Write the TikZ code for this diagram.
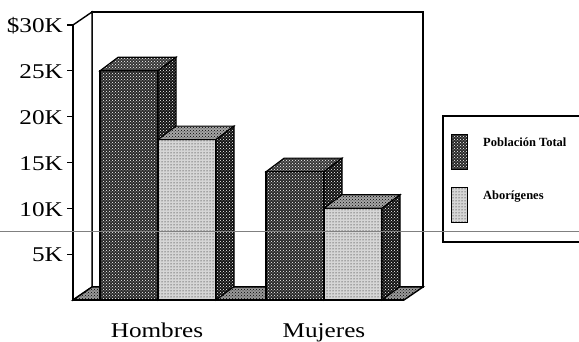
\documentclass[tikz,border=0pt]{standalone}
\usepackage{fontspec}
\setmainfont{Liberation Serif}[FakeStretch=1.2]
\newfontfamily\legfont{Liberation Serif}
\usetikzlibrary{patterns}
\newcommand\barbox[6]{%
  \path[#4, edge] (#1,300) rectangle (#2,#3);
  \path[#5, edge] (#1,#3) -- (#2,#3) -- (#2+18,#3-13.5) -- (#1+18,#3-13.5) -- cycle;
  \path[#6, edge] (#2,300) -- (#2,#3) -- (#2+18,#3-13.5) -- (#2+18,286.5) -- cycle;
}
\begin{document}
\begin{tikzpicture}[x=1pt,y=-1pt,
  edge/.style={draw=black, line width=1.1pt, line join=miter},
  wall/.style={draw=black, line width=1.4pt, fill=white, line join=miter},
  wallline/.style={draw=black, line width=1.4pt, line join=miter},
  darkfront/.style={preaction={fill=black!84}, pattern=crosshatch dots, pattern color=white},
  darktop/.style={preaction={fill=black!78}, pattern=crosshatch dots, pattern color=white},
  darkside/.style={preaction={fill=black!93}, pattern=crosshatch dots, pattern color=white},
  lightfront/.style={preaction={fill=black!16}, pattern=dots, pattern color=black},
  lighttop/.style={preaction={fill=black!35}, pattern=crosshatch dots, pattern color=black},
  floorfill/.style={preaction={fill=black!40}, pattern=crosshatch dots, pattern color=black},
  axlab/.style={anchor=east, inner sep=0pt, font=\fontsize{21}{21}\selectfont},
  catlab/.style={anchor=base, inner sep=0pt, font=\fontsize{21}{21}\selectfont},
  leglab/.style={anchor=west, inner sep=0pt, font=\legfont\bfseries\fontsize{12.5}{12.5}\selectfont},
  tick/.style={draw=black, line width=1.3pt}
]
\useasboundingbox (0,0) rectangle (579,342);
% walls
\path[wall] (92,12) rectangle (423,287);
\path[wall] (73,25) -- (92,12) -- (92,287) -- (73,300) -- cycle;
\path[floorfill, wallline] (73,300) -- (404,300) -- (423,287) -- (92,287) -- cycle;
% bars
\barbox{100}{158}{70.8}{darkfront}{darktop}{darkside}
\barbox{158}{216}{139.6}{lightfront}{lighttop}{darkside}
\barbox{266}{324}{171.7}{darkfront}{darktop}{darkside}
\barbox{324}{382}{208.3}{lightfront}{lighttop}{darkside}
% axis
\draw[line width=1.6pt] (73,25) -- (73,300) -- (404,300);
\foreach \v/\t in {30/\$30K,25/25K,20/20K,15/15K,10/10K,5/5K}{
  \draw[tick] (67,{300-9.1667*\v}) -- (73,{300-9.1667*\v});
  \node[axlab] (lab\v) at (63,{301-9.1667*\v}) {\t};
}
\node[catlab] (hombres) at (157,337) {Hombres};
\node[catlab] (mujeres) at (324,337) {Mujeres};
% legend
\draw[line width=1.2pt] (579,116) -- (443,116) -- (443,242) -- (579,242);
\path[darkfront, draw=black, line width=1pt] (451,135) rectangle (467,170);
\path[lightfront, draw=black, line width=1pt] (451,188) rectangle (467,223);
\node[leglab] (leg1) at (483,142) {Población Total};
\node[leglab] (leg2) at (483,197) {Aborígenes};
% scan line
\draw[black!50, line width=1pt] (0,232) -- (579,232);
\end{tikzpicture}
\end{document}
